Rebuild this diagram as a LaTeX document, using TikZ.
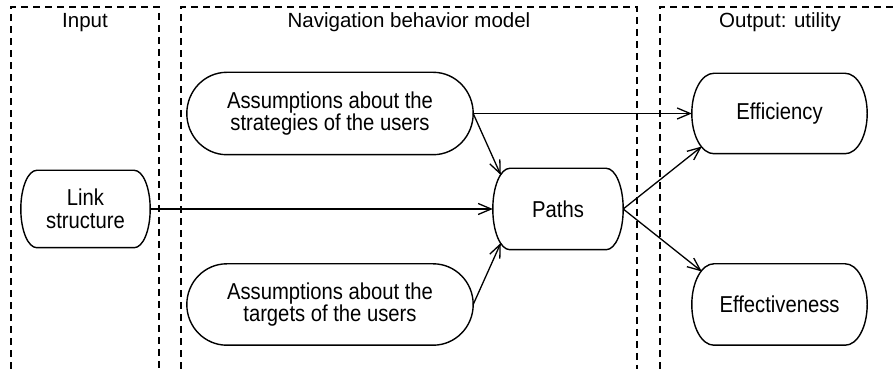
\documentclass[tikz,border=0pt]{standalone}
\usepackage{fontspec}
\setmainfont{Liberation Sans}
\newfontfamily\boxfont[FakeStretch=0.88]{Liberation Sans}
\usetikzlibrary{arrows.meta,calc}

\tikzset{
  frameline/.style={line width=1.2pt, dash pattern=on 7pt off 5pt},
  outline/.style={line width=1.4pt},
  capbox/.style={draw=none, align=center, inner sep=0pt,
    font=\boxfont\fontsize{23}{22.7}\selectfont},
  flow/.style={line width=1.3pt, -{Straight Barb[length=13pt,width=11pt]}},
  heading/.style={font=\fontsize{20.5}{23}\selectfont, anchor=base, inner sep=0pt}
}

% outline of a capsule node: straight top and bottom, half-ellipse ends
\newcommand\capsule[2]{%
  \draw[outline] let \p1=(#1.north west), \p2=(#1.south east),
      \n1={(\y1-\y2)/2} in
    (\x1+#2pt,\y1) -- (\x2-#2pt,\y1)
    arc[start angle=90, end angle=-90, x radius=#2pt, y radius=\n1]
    -- (\x1+#2pt,\y2)
    arc[start angle=270, end angle=90, x radius=#2pt, y radius=\n1]
    -- cycle;}

\begin{document}
\begin{tikzpicture}[x=1pt,y=1pt]
  \useasboundingbox (0,0) rectangle (894,369);
  \fill[white] (0,0) rectangle (894,369);

  % dashed column frames, open at the bottom
  \draw[frameline] (11,0) -- (11,362) -- (159,362) -- (159,0);
  \draw[frameline] (181,0) -- (181,362) -- (637,362) -- (637,0);
  \draw[frameline] (660,0) -- (660,362) -- (900,362);

  % column headings
  \node[heading] (hin)  at (85,341)  {Input};
  \node[heading] (hnav) at (409,341) {Navigation behavior model};
  \node[heading] (hout) at (780,341) {Output: utility};

  % nodes
  \node[capbox, minimum width=129pt, minimum height=77pt] (link)    at (85.5,160) {Link\\structure};
  \node[capbox, minimum width=286pt, minimum height=82pt] (strat)   at (330,255.5) {Assumptions about the\\strategies of the users};
  \node[capbox, minimum width=286pt, minimum height=81pt] (targets) at (330,64.5) {Assumptions about the\\targets of the users};
  \node[capbox, minimum width=130pt, minimum height=81pt] (paths)   at (558,160) {Paths};
  \node[capbox, minimum width=175pt, minimum height=80pt] (eff)     at (779.5,255.5) {Efficiency};
  \node[capbox, minimum width=175pt, minimum height=81pt] (effv)    at (779.5,64.5) {Effectiveness};

  \capsule{link}{16}
  \capsule{strat}{40}
  \capsule{targets}{40}
  \capsule{paths}{17}
  \capsule{eff}{22}
  \capsule{effv}{22}

  % arrow end points on the curved ends
  \coordinate (pathsin1) at ($(paths.west)+(8,34)$);
  \coordinate (pathsin2) at ($(paths.west)+(8,-34)$);
  \coordinate (effin)    at ($(eff.west)+(10,-33)$);
  \coordinate (effvin)   at ($(effv.west)+(10,33)$);

  % connectors
  \draw[flow] (strat.east) -- (eff.west);
  \draw[flow] (strat.east) -- (pathsin1);
  \draw[flow] (targets.east) -- (pathsin2);
  \draw[flow] (link.east) -- (paths.west);
  \draw[flow] (paths.east) -- (effin);
  \draw[flow] (paths.east) -- (effvin);
\end{tikzpicture}
\end{document}
